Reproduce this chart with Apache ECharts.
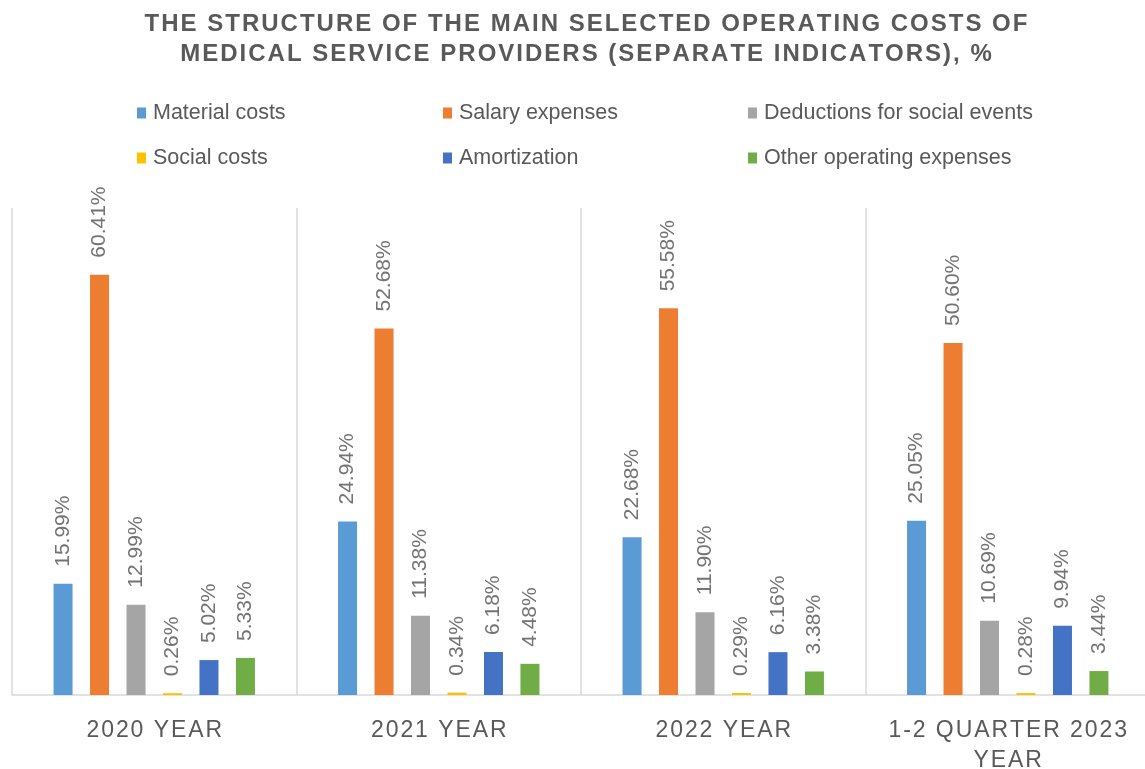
<!DOCTYPE html>
<html>
<head>
<meta charset="utf-8">
<title>Operating costs structure</title>
<script src="https://cdn.jsdelivr.net/npm/echarts@6/dist/echarts.min.js"></script>
<style>
    html, body { margin: 0; padding: 0; background: #fff; }
    #main { width: 1145px; height: 769px; }
</style>
</head>
<body>
<div id="main"></div>
<script>
// periods on the x axis
var periods = ['2020 YEAR', '2021 YEAR', '2022 YEAR', '1-2 QUARTER 2023 YEAR'];

// series names, as in the legend
var names = ['Material costs', 'Salary expenses', 'Deductions for social events',
    'Social costs', 'Amortization', 'Other operating expenses'];

// share of each cost item, %
var materialCosts = [15.99, 24.94, 22.68, 25.05];
var salaryExpenses = [60.41, 52.68, 55.58, 50.60];
var socialDeductions = [12.99, 11.38, 11.90, 10.69];
var socialCosts = [0.26, 0.34, 0.29, 0.28];
var amortization = [5.02, 6.18, 6.16, 9.94];
var otherExpenses = [5.33, 4.48, 3.38, 3.44];

var titleText = 'THE STRUCTURE OF THE MAIN SELECTED OPERATING COSTS OF\nMEDICAL SERVICE PROVIDERS (SEPARATE INDICATORS), %';

var colors = ['#5B9BD5', '#ED7D31', '#A5A5A5', '#FFC000', '#4472C4', '#70AD47'];
var textColor = '#595959';
var font = "'Liberation Sans', Arial, sans-serif";

// no letterSpacing in canvas text, so put hair spaces between letters
function spaced(s) {
    return s.split('\n').map(function (line) {
        return line.split('').join('\u200A');
    }).join('\n');
}

function wrap(s, maxLen) {
    var words = s.split(' ');
    var lines = [];
    var cur = '';
    words.forEach(function (w) {
        if (cur && (cur + ' ' + w).length > maxLen) {
            lines.push(cur);
            cur = w;
        } else {
            cur = cur ? cur + ' ' + w : w;
        }
    });
    lines.push(cur);
    return lines.join('\n');
}

var chart = echarts.init(document.getElementById('main'));

var seriesData = [materialCosts, salaryExpenses, socialDeductions, socialCosts, amortization, otherExpenses];

var series = seriesData.map(function (vals, i) {
    return {
        type: 'bar',
        name: names[i],
        data: vals,
        barWidth: 19,
        barGap: '92%',
        itemStyle: { color: colors[i] },
        label: {
            show: true,
            position: 'top',
            rotate: 90,
            align: 'left',
            verticalAlign: 'middle',
            distance: 17,
            color: '#737373',
            fontFamily: font,
            fontSize: 21,
            formatter: function (p) { return p.value.toFixed(2) + '%'; }
        }
    };
});

function legendCol(items, left) {
    return {
        data: items,
        left: left,
        top: 97,
        orient: 'vertical',
        itemWidth: 9,
        itemHeight: 11,
        itemGap: 23,
        icon: 'rect',
        textStyle: {
            color: textColor,
            fontSize: 21.5,
            fontFamily: font,
            padding: [0, 0, 0, 2]
        }
    };
}

var option = {
    animation: false,
    backgroundColor: '#fff',
    color: colors,
    title: {
        text: spaced(titleText),
        left: 581,
        top: 4,
        textAlign: 'center',
        textStyle: {
            color: textColor,
            fontSize: 24,
            fontWeight: 'bold',
            fontFamily: font,
            lineHeight: 30
        }
    },
    legend: [
        legendCol([names[0], names[3]], 132),
        legendCol([names[1], names[4]], 438),
        legendCol([names[2], names[5]], 743)
    ],
    grid: {
        left: 12,
        right: -5,
        top: 208,
        bottom: 74,
        outerBoundsMode: 'none'
    },
    xAxis: {
        type: 'category',
        data: periods,
        axisLine: { lineStyle: { color: '#D9D9D9', width: 1.5 } },
        axisTick: { show: false },
        splitLine: { show: true, interval: 0, lineStyle: { color: '#D9D9D9', width: 1.5 } },
        axisLabel: {
            interval: 0,
            margin: 21,
            color: textColor,
            fontSize: 23,
            lineHeight: 30,
            fontFamily: font,
            formatter: function (v) { return spaced(wrap(v, 16)); }
        }
    },
    yAxis: {
        type: 'value',
        min: 0,
        max: 70,
        show: false,
        splitLine: { show: false }
    },
    series: series
};

chart.setOption(option);
</script>
</body>
</html>
